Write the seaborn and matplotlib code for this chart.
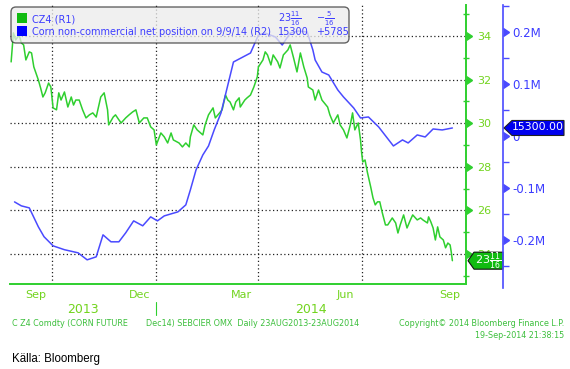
import pandas as pd
import numpy as np
import seaborn as sns
import matplotlib.pyplot as plt
import matplotlib.dates as mdates
from matplotlib import transforms
from matplotlib.patches import FancyBboxPatch, Polygon, Rectangle
from matplotlib.ticker import FixedLocator, FixedFormatter, NullFormatter

sns.set_style('white')
plt.rcParams['font.family'] = ['DejaVu Sans']
plt.rcParams['mathtext.fontset'] = 'dejavusans'

# CZ4 (R1) - corn future Dec14
cz4_dates = ['2013-08-26', '2013-08-28', '2013-08-30', '2013-09-02', '2013-09-04', '2013-09-06', '2013-09-08',
             '2013-09-11', '2013-09-13', '2013-09-15', '2013-09-19', '2013-09-21', '2013-09-23', '2013-09-25',
             '2013-09-28', '2013-09-30',
             '2013-10-02', '2013-10-05', '2013-10-07', '2013-10-09', '2013-10-12', '2013-10-15', '2013-10-18',
             '2013-10-20', '2013-10-22', '2013-10-25', '2013-10-28', '2013-10-31',
             '2013-11-03', '2013-11-06', '2013-11-09', '2013-11-13', '2013-11-16', '2013-11-19', '2013-11-20',
             '2013-11-24', '2013-11-26', '2013-11-29',
             '2013-12-01', '2013-12-05', '2013-12-08', '2013-12-11', '2013-12-14', '2013-12-17', '2013-12-21',
             '2013-12-24', '2013-12-27', '2013-12-30',
             '2014-01-01', '2014-01-05', '2014-01-08', '2014-01-11', '2014-01-14', '2014-01-16', '2014-01-21',
             '2014-01-24', '2014-01-27', '2014-01-30', '2014-01-31',
             '2014-02-03', '2014-02-06', '2014-02-11', '2014-02-13', '2014-02-16', '2014-02-20', '2014-02-22',
             '2014-02-25', '2014-02-28',
             '2014-03-03', '2014-03-05', '2014-03-07', '2014-03-10', '2014-03-12', '2014-03-15', '2014-03-16',
             '2014-03-20', '2014-03-22', '2014-03-25', '2014-03-28', '2014-03-31',
             '2014-04-01', '2014-04-05', '2014-04-07', '2014-04-09', '2014-04-12', '2014-04-14', '2014-04-18',
             '2014-04-20', '2014-04-23', '2014-04-27', '2014-04-29',
             '2014-05-02', '2014-05-05', '2014-05-08', '2014-05-11', '2014-05-14', '2014-05-15', '2014-05-19',
             '2014-05-21', '2014-05-24', '2014-05-27',
             '2014-06-01', '2014-06-03', '2014-06-06', '2014-06-10', '2014-06-12', '2014-06-15', '2014-06-18',
             '2014-06-21', '2014-06-23', '2014-06-25', '2014-06-28', '2014-06-30',
             '2014-07-01', '2014-07-02', '2014-07-04', '2014-07-06', '2014-07-09', '2014-07-11', '2014-07-13',
             '2014-07-15', '2014-07-17', '2014-07-19', '2014-07-22', '2014-07-24', '2014-07-28', '2014-07-31',
             '2014-08-02', '2014-08-04', '2014-08-07', '2014-08-10', '2014-08-13', '2014-08-15', '2014-08-19',
             '2014-08-22', '2014-08-24', '2014-08-28', '2014-08-29', '2014-08-31',
             '2014-09-02', '2014-09-04', '2014-09-06', '2014-09-08', '2014-09-11', '2014-09-13', '2014-09-15',
             '2014-09-17', '2014-09-18', '2014-09-19']
cz4_values = [32.81, 34.14, 33.82, 34.05, 33.68, 33.59, 32.90, 33.27, 33.22, 32.58, 31.98, 31.61, 31.20, 31.39, 31.84, 31.66,
              30.70, 30.61, 31.39, 31.06, 31.43, 30.74, 31.20, 30.83, 31.06, 31.06, 30.61, 30.24,
              30.38, 30.47, 30.28, 31.20, 31.39, 30.61, 29.92, 30.28, 30.38, 30.15,
              30.01, 30.24, 30.38, 30.51, 30.61, 30.01, 30.24, 30.24, 29.83, 29.69,
              29.00, 29.55, 29.37, 29.09, 29.55, 29.23, 29.09, 28.91, 29.09, 28.91, 29.37,
              29.92, 29.69, 29.46, 29.92, 30.38, 30.70, 30.24, 30.42, 30.61,
              31.29, 31.06, 30.97, 30.61, 30.97, 31.16, 30.74, 31.06, 31.16, 31.29, 31.66, 32.12,
              32.58, 32.90, 33.27, 33.13, 32.67, 33.13, 32.81, 32.53, 33.13, 33.36, 33.59,
              32.99, 32.35, 33.22, 32.58, 32.07, 31.66, 31.52, 31.06, 31.52, 31.06,
              30.74, 30.38, 30.01, 30.38, 29.92, 29.69, 29.32, 29.92, 30.47, 29.69, 30.01, 29.23,
              28.63, 28.22, 28.31, 27.76, 27.07, 26.57, 26.25, 26.39, 26.39, 25.93, 25.33, 25.33, 25.65, 25.42,
              24.96, 25.33, 25.79, 25.19, 25.56, 25.79, 25.56, 25.65, 25.56, 25.42, 25.70, 25.47,
              25.19, 24.64, 25.24, 24.78, 24.64, 24.28, 24.50, 24.41, 24.09, 23.69]

# Corn non-commercial net position (R2), weekly
pos_dates = ['2013-08-29', '2013-09-04', '2013-09-11', '2013-09-19', '2013-09-24', '2013-10-02', '2013-10-12',
             '2013-10-24', '2013-11-01', '2013-11-09', '2013-11-15', '2013-11-22', '2013-11-29', '2013-12-05',
             '2013-12-12', '2013-12-20', '2013-12-27', '2014-01-02', '2014-01-08', '2014-01-14', '2014-01-20',
             '2014-01-27', '2014-01-31', '2014-02-05', '2014-02-11', '2014-02-16', '2014-02-21', '2014-02-27',
             '2014-03-10', '2014-03-25', '2014-04-01', '2014-04-07', '2014-04-16', '2014-04-22', '2014-04-29',
             '2014-05-06', '2014-05-14', '2014-05-19', '2014-05-21', '2014-05-27', '2014-06-02', '2014-06-10',
             '2014-06-15', '2014-06-24', '2014-06-30', '2014-07-07', '2014-07-16', '2014-07-29', '2014-08-06',
             '2014-08-11', '2014-08-19', '2014-08-26', '2014-09-02', '2014-09-10', '2014-09-19']
pos_values = [-127000, -134600, -138500, -175000, -194000, -211600, -219000, -225000, -238500, -232700,
              -190400, -203800, -203800, -186500, -163500, -173000, -155800, -163500, -153900, -150000,
              -146200, -132700, -103900, -65400, -36600, -19300, 11500, 44200, 142300, 159600,
              194200, 198000, 190400, 175000, 198000, 202000, 200000, 165400, 146200, 123000,
              117300, 88400, 75000, 53800, 34600, 36500, 17300, -19300, -7700, -13500,
              1900, -2000, 13400, 11500, 15300]

green_ticks = [24, 26, 28, 30, 32, 34]
green_minor = [23, 25, 27, 29, 31, 33, 35]
pos_ticks = [-200000, -100000, 0, 100000, 200000]
pos_tick_labels = ['-0.2M', '-0.1M', '0', '0.1M', '0.2M']
pos_minor = [-250000, -150000, -50000, 50000, 150000, 250000]
month_labels = ['Sep', 'Dec', 'Mar', 'Jun', 'Sep']
month_label_dates = ['2013-09-17', '2013-12-17', '2014-03-17', '2014-06-17', '2014-09-17']
grid_dates = ['2013-10-01', '2014-01-01', '2014-04-01', '2014-07-01', '2014-10-01']
year_labels = ['2013', '2014']
year_label_dates = ['2013-10-28', '2014-05-17']

GREEN = '#2fcf2f'
GREEN_TXT = '#72d41e'
FOOT = '#3cbf3c'
BLUE = '#4a4aff'
BLUE_TXT = '#3c3cff'

W, H = 570, 369
fig = plt.figure(figsize=(5.7, 3.69), dpi=100)
ax = fig.add_axes([10 / W, 1 - 284 / H, 456 / W, 279 / H])

sns.lineplot(x=pd.to_datetime(cz4_dates), y=cz4_values, ax=ax, color=GREEN, linewidth=1.1)
ax.set_xlim(pd.Timestamp('2013-08-25'), pd.Timestamp('2014-10-01'))
ax.set_ylim(22.62, 35.42)
ax.set_xlabel('')
ax.set_ylabel('')

ax2 = ax.twinx()
sns.lineplot(x=pd.to_datetime(pos_dates), y=pos_values, ax=ax2, color=BLUE, linewidth=1.1)
ax2.set_ylim(-285000, 252000)
ax2.set_ylabel('')

# spines
for s in ['left', 'top']:
    ax.spines[s].set_visible(False)
    ax2.spines[s].set_visible(False)
ax2.spines['bottom'].set_visible(False)
ax.spines['bottom'].set_color(GREEN)
ax.spines['bottom'].set_linewidth(1.4)
ax.spines['right'].set_color(GREEN)
ax.spines['right'].set_linewidth(1.4)
ax2.spines['right'].set_position(('outward', 37 * 0.72))  # 37 px at 100 dpi
ax2.spines['right'].set_color(BLUE)
ax2.spines['right'].set_linewidth(1.2)
ax2.spines['right'].set_bounds(-292000, 252000)

# grid
ax.yaxis.grid(True, color='#222222', linestyle=(0, (1, 2)), linewidth=0.9)
ax.xaxis.grid(False)
for d in grid_dates:
    ax.axvline(pd.Timestamp(d), color='#222222', linestyle=(0, (1, 2)), linewidth=0.9, zorder=1)

# x axis
ax.xaxis.set_major_locator(FixedLocator(mdates.date2num(pd.to_datetime(month_label_dates))))
ax.xaxis.set_major_formatter(FixedFormatter(month_labels))
ax.xaxis.set_minor_locator(mdates.MonthLocator())
ax.xaxis.set_minor_formatter(NullFormatter())
ax.tick_params(axis='x', which='major', length=0, pad=4, labelsize=8, labelcolor=GREEN_TXT)
ax.tick_params(axis='x', which='minor', length=4, width=1, color=GREEN, direction='out')

bx = transforms.blended_transform_factory(ax.transData, ax.transAxes)
for lab, d in zip(year_labels, year_label_dates):
    ax.text(pd.Timestamp(d), -0.09, lab, transform=bx, ha='center', va='center',
            fontsize=9, color=GREEN_TXT)
ax.plot([pd.Timestamp('2014-01-01')] * 2, [-0.063, -0.112], transform=bx, color=GREEN,
        linewidth=0.8, clip_on=False)

# green y axis (R1)
ax.yaxis.tick_right()
ax.yaxis.set_major_locator(FixedLocator(green_ticks))
ax.yaxis.set_minor_locator(FixedLocator(green_minor))
ax.tick_params(axis='y', which='major', right=True, left=False, labelright=True, labelleft=False,
               length=6, width=1, color=GREEN, labelcolor=GREEN_TXT, labelsize=8, pad=2)
ax.tick_params(axis='y', which='minor', right=True, left=False, length=4, width=1,
               color=GREEN, direction='inout')

# blue y axis (R2)
ax2.yaxis.set_major_locator(FixedLocator(pos_ticks))
ax2.yaxis.set_major_formatter(FixedFormatter(pos_tick_labels))
ax2.yaxis.set_minor_locator(FixedLocator(pos_minor))
ax2.tick_params(axis='y', which='major', length=6, width=1, color=BLUE, labelcolor=BLUE_TXT,
                labelsize=8.5, pad=1)
ax2.tick_params(axis='y', which='minor', length=4, width=1, color=BLUE)

for t in ax.yaxis.get_major_ticks():
    t.tick2line.set_marker(9)
for t in ax2.yaxis.get_major_ticks():
    t.tick2line.set_marker(9)

# value tags on the right
gtrans = fig.dpi_scale_trans + transforms.ScaledTranslation(
    1.0, cz4_values[-1], transforms.blended_transform_factory(ax.transAxes, ax.transData))
ax.add_patch(Polygon([(0.02, 0), (0.08, 0.085), (0.37, 0.085), (0.37, -0.085), (0.08, -0.085)],
                     closed=True, transform=gtrans, facecolor='#11bb11', edgecolor='#111111',
                     linewidth=0.8, clip_on=False, zorder=5))
ax.text(0.225, -0.005, r'$23\frac{11}{16}$', transform=gtrans, ha='center', va='center',
        fontsize=8, color='white', zorder=6, clip_on=False)

btrans = fig.dpi_scale_trans + transforms.ScaledTranslation(
    1.0, pos_values[-1], transforms.blended_transform_factory(ax2.transAxes, ax2.transData))
ax2.add_patch(Polygon([(0.38, 0), (0.46, 0.075), (0.98, 0.075), (0.98, -0.075), (0.46, -0.075)],
                      closed=True, transform=btrans, facecolor='#0000ee', edgecolor='#222222',
                      linewidth=0.8, clip_on=False, zorder=5))
ax2.text(0.72, 0.005, '15300.00', transform=btrans, ha='center', va='center',
         fontsize=7.8, color='white', zorder=6, clip_on=False)

# legend box
inch = fig.dpi_scale_trans
fig.patches.append(FancyBboxPatch((0.11, 3.26), 3.38, 0.36, boxstyle='round,pad=0,rounding_size=0.05',
                                  transform=inch, facecolor='#ececec', edgecolor='#333333',
                                  linewidth=1.0, alpha=0.75, figure=fig))
fig.patches.append(Rectangle((0.17, 3.46), 0.10, 0.10, transform=inch, facecolor='#11bb11',
                             edgecolor='none', figure=fig))
fig.patches.append(Rectangle((0.17, 3.33), 0.10, 0.10, transform=inch, facecolor='#0000ff',
                             edgecolor='none', figure=fig))
fig.text(0.32, 3.50, 'CZ4 (R1)', transform=inch, va='center', fontsize=7, color=BLUE_TXT)
fig.text(0.32, 3.37, 'Corn non-commercial net position on 9/9/14 (R2)', transform=inch,
         va='center', fontsize=7, color=BLUE_TXT)
fig.text(2.78, 3.50, r'$23\frac{11}{16}$', transform=inch, va='center', fontsize=7, color=BLUE_TXT)
fig.text(3.16, 3.50, r'$-\frac{5}{16}$', transform=inch, va='center', fontsize=7, color=BLUE_TXT)
fig.text(2.78, 3.37, '15300', transform=inch, va='center', fontsize=7, color=BLUE_TXT)
fig.text(3.16, 3.37, '+5785', transform=inch, va='center', fontsize=7, color=BLUE_TXT)

# footer
fig.text(12 / W, 1 - 324 / H, 'C Z4 Comdty (CORN FUTURE', va='center', fontsize=5.8, color=FOOT)
fig.text(146 / W, 1 - 324 / H, 'Dec14) SEBCIER OMX  Daily 23AUG2013-23AUG2014', va='center',
         fontsize=5.8, color=FOOT)
fig.text(564 / W, 1 - 324 / H, 'Copyright\u00a9 2014 Bloomberg Finance L.P.', ha='right', va='center',
         fontsize=5.8, color=FOOT)
fig.text(564 / W, 1 - 335 / H, '19-Sep-2014 21:38:15', ha='right', va='center',
         fontsize=5.8, color=FOOT)
fig.text(12 / W, 1 - 359 / H, 'Källa: Bloomberg', va='center', fontsize=8.3, color='black',
         family=['Liberation Sans', 'DejaVu Sans'])

fig.savefig('out.png', dpi=100, facecolor='white')
